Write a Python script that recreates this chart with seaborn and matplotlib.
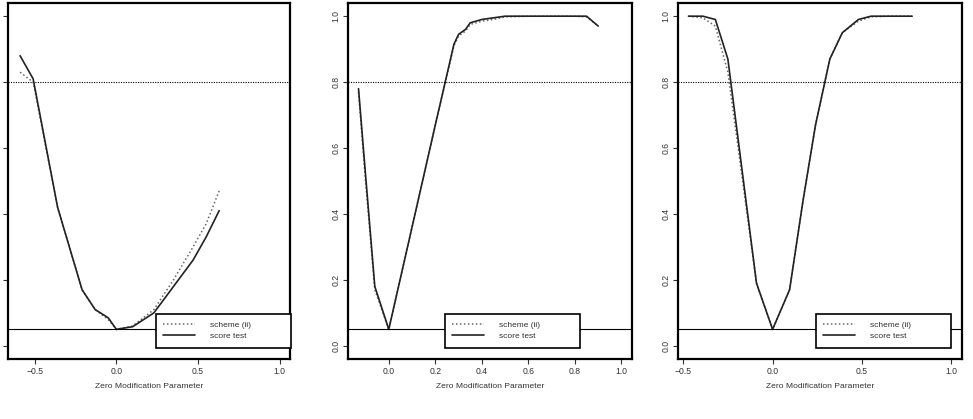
import numpy as np
import pandas as pd
import matplotlib
matplotlib.use("Agg")
import matplotlib.pyplot as plt
import seaborn as sns

# power curves, one panel each
x1 = [-0.59, -0.51, -0.36, -0.21, -0.13, -0.05, 0.0, 0.1, 0.23, 0.35, 0.47, 0.55, 0.63]
score1 = [0.88, 0.81, 0.42, 0.17, 0.11, 0.085, 0.05, 0.058, 0.10, 0.18, 0.26, 0.33, 0.41]
scheme1 = [0.83, 0.80, 0.42, 0.17, 0.11, 0.08, 0.05, 0.06, 0.11, 0.20, 0.30, 0.37, 0.47]

x2 = [-0.13, -0.1, -0.06, 0.0, 0.1, 0.2, 0.28, 0.3, 0.33, 0.35, 0.4, 0.45, 0.5, 0.6, 0.7, 0.8, 0.85, 0.9]
score2 = [0.78, 0.52, 0.18, 0.05, 0.36, 0.67, 0.915, 0.945, 0.96, 0.98, 0.99, 0.995, 1.0, 1.0, 1.0, 1.0, 1.0, 0.97]
scheme2 = [0.77, 0.50, 0.17, 0.05, 0.36, 0.67, 0.91, 0.94, 0.955, 0.975, 0.985, 0.99, 0.998, 1.0, 1.0, 1.0, 0.998, 0.97]

x3 = [-0.47, -0.39, -0.32, -0.25, -0.09, 0.0, 0.095, 0.17, 0.24, 0.32, 0.39, 0.48, 0.55, 0.65, 0.78]
score3 = [1.0, 1.0, 0.99, 0.87, 0.19, 0.05, 0.17, 0.44, 0.67, 0.87, 0.95, 0.99, 1.0, 1.0, 1.0]
scheme3 = [1.0, 0.995, 0.97, 0.83, 0.19, 0.05, 0.17, 0.44, 0.67, 0.87, 0.95, 0.985, 0.998, 1.0, 1.0]

xlims = [(-0.6, 1.0), (-0.13, 1.0), (-0.47, 1.0)]
xticks = [[-0.5, 0.0, 0.5, 1.0], [0.0, 0.2, 0.4, 0.6, 0.8, 1.0], [-0.5, 0.0, 0.5, 1.0]]
yticks = [0.0, 0.2, 0.4, 0.6, 0.8, 1.0]
labels = ["scheme (ii)", "score test"]

sns.set_style("ticks")
plt.rcParams["font.family"] = ["Liberation Sans", "DejaVu Sans"]

W, H = 973, 419
fig = plt.figure(figsize=(9.73, 4.19), dpi=100)
boxes = [(8, 290), (348, 632), (678, 962)]
panels = [(x1, scheme1, score1), (x2, scheme2, score2), (x3, scheme3, score3)]

for i, ((l, r), (xs, sch, sc)) in enumerate(zip(boxes, panels)):
    ax = fig.add_axes([l / W, 60 / H, (r - l) / W, 356 / H])
    df = pd.DataFrame({"x": xs, "scheme": sch, "score": sc})
    sns.lineplot(data=df, x="x", y="scheme", ax=ax, color="#666666",
                 linestyle=(0, (1, 1.6)), linewidth=1.1, label=labels[0])
    sns.lineplot(data=df, x="x", y="score", ax=ax, color="#222222",
                 linewidth=1.2, label=labels[1])
    ax.axhline(0.8, color="black", linestyle=(0, (1, 1.2)), linewidth=0.8)
    ax.axhline(0.05, color="black", linewidth=0.8)

    lo, hi = xlims[i]
    pad = 0.04 * (hi - lo)
    ax.set_xlim(lo - pad, hi + pad)
    ax.set_ylim(-0.04, 1.04)
    ax.set_xticks(xticks[i])
    ax.set_yticks(yticks)
    ax.set_xticklabels([f"{t:.1f}".replace("-", "\u2212") for t in xticks[i]])
    if i == 0:
        # first panel is cropped in the reference: tick marks only
        ax.set_yticklabels([])
    else:
        ax.set_yticklabels([f"{t:.1f}" for t in yticks], rotation=90, va="center")
    ax.tick_params(labelsize=6.2, length=3.5, width=0.8, pad=2, colors="#333333")
    ax.set_xlabel("Zero Modification Parameter", fontsize=6.1, color="#333333", labelpad=5)
    ax.set_ylabel("")
    for s in ax.spines.values():
        s.set_linewidth(1.6)
        s.set_color("black")

    wdata = (135 / (r - l)) * (hi - lo + 2 * pad)
    leg = ax.legend(loc="upper left", bbox_to_anchor=(0.24, -0.009, wdata, 0.106),
                    bbox_transform=ax.transData, mode="expand", fontsize=6,
                    frameon=True, fancybox=False, framealpha=1, handlelength=3.8,
                    handletextpad=1.8, borderpad=0.9, labelspacing=0.4, borderaxespad=0)
    leg.get_frame().set_edgecolor("black")
    leg.get_frame().set_linewidth(1.2)
    for t in leg.get_texts():
        t.set_color("#333333")

fig.savefig("out.png", dpi=100)
